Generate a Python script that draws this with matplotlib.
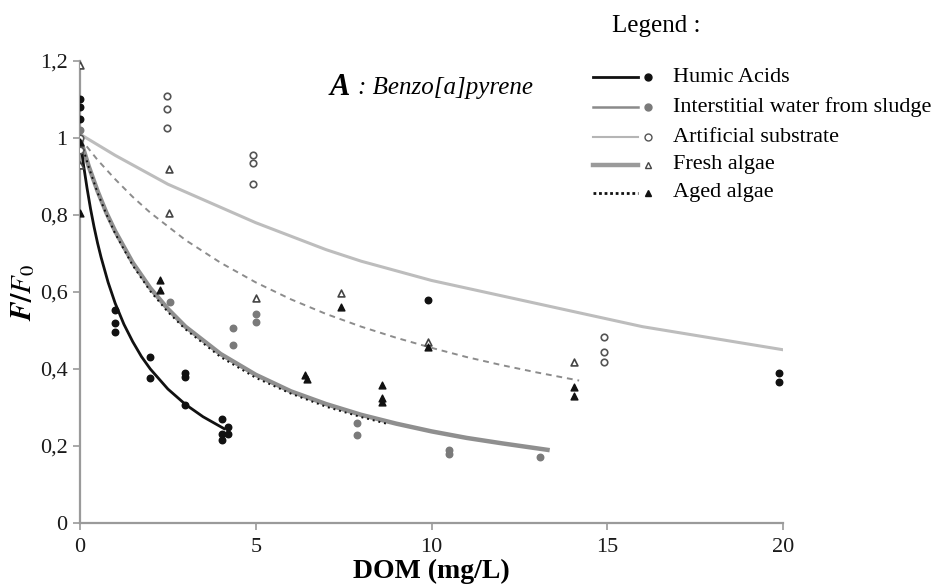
import matplotlib
matplotlib.use("Agg")
import matplotlib.pyplot as plt
from matplotlib.lines import Line2D

plt.rcParams['font.family'] = ['Liberation Serif', 'DejaVu Serif']
plt.rcParams['mathtext.fontset'] = 'stix'

# ---- fitted curves ----
humic_cx = [0, 0.1, 0.2, 0.3, 0.4, 0.5, 0.6, 0.8, 1.0, 1.25, 1.5, 1.75, 2, 2.5, 3, 3.5, 4.1]
humic_cy = [1.0, 0.93, 0.87, 0.816, 0.769, 0.727, 0.69, 0.625, 0.571, 0.516, 0.471,
            0.432, 0.40, 0.348, 0.308, 0.276, 0.245]

sludge_cx = [0, 0.25, 0.5, 0.75, 1, 1.5, 2, 2.5, 3, 4, 5, 6, 7, 8, 9, 10, 11, 12, 13.3]
sludge_cy = [1.0, 0.926, 0.862, 0.806, 0.758, 0.676, 0.61, 0.556, 0.51, 0.439, 0.385,
             0.342, 0.309, 0.281, 0.258, 0.238, 0.221, 0.207, 0.19]

aged_cx = [0, 0.25, 0.5, 0.75, 1, 1.5, 2, 2.5, 3, 4, 5, 6, 7, 8, 8.8]
aged_cy = [1.0, 0.924, 0.858, 0.802, 0.752, 0.669, 0.602, 0.548, 0.503, 0.431, 0.377,
           0.336, 0.302, 0.275, 0.256]

artif_cx = [0, 1, 2, 2.5, 3, 4, 5, 6, 7, 8, 9, 10, 11, 12, 13, 14, 15, 16, 17, 18, 19, 20]
artif_cy = [1.01, 0.955, 0.905, 0.88, 0.86, 0.82, 0.78, 0.745, 0.71, 0.68, 0.655, 0.63,
            0.61, 0.59, 0.57, 0.55, 0.53, 0.51, 0.495, 0.48, 0.465, 0.45]

fresh_cx = [0, 0.5, 1, 1.5, 2, 3, 4, 5, 6, 7, 8, 9, 10, 11, 12, 13, 14.2]
fresh_cy = [1.0, 0.943, 0.893, 0.847, 0.806, 0.735, 0.676, 0.625, 0.581, 0.543,
            0.51, 0.481, 0.455, 0.431, 0.41, 0.391, 0.37]

# ---- measured points ----
humic_px = [0, 0, 0, 1.0, 1.0, 1.0, 2.0, 2.0, 3.0, 3.0, 3.0, 4.05, 4.05, 4.05, 4.2, 4.2, 9.9, 19.9, 19.9]
humic_py = [1.10, 1.08, 1.05, 0.553, 0.52, 0.496, 0.43, 0.377, 0.39, 0.38, 0.306, 0.27, 0.23, 0.215, 0.25, 0.23, 0.58, 0.39, 0.366]

sludge_px = [0, 0, 2.55, 4.35, 4.35, 5.0, 5.0, 7.88, 7.88, 10.5, 10.5, 13.1]
sludge_py = [1.02, 0.98, 0.575, 0.506, 0.462, 0.543, 0.523, 0.26, 0.229, 0.19, 0.18, 0.172]

artif_px = [0, 0, 2.47, 2.47, 2.47, 4.93, 4.93, 4.93, 14.9, 14.9, 14.9]
artif_py = [1.0, 0.97, 1.11, 1.075, 1.025, 0.955, 0.935, 0.88, 0.483, 0.444, 0.419]

fresh_px = [0, 0, 2.53, 2.53, 5.0, 7.42, 9.9, 14.05]
fresh_py = [1.19, 0.93, 0.92, 0.805, 0.584, 0.597, 0.47, 0.419]

aged_px = [0, 0, 2.28, 2.28, 6.4, 6.45, 7.42, 8.6, 8.6, 8.6, 9.9, 14.05, 14.05]
aged_py = [0.99, 0.805, 0.63, 0.605, 0.384, 0.375, 0.561, 0.358, 0.325, 0.315, 0.457, 0.354, 0.33]

x_ticks = [0, 5, 10, 15, 20]
y_ticks = [0, 0.2, 0.4, 0.6, 0.8, 1.0, 1.2]
y_ticklabels = ['0', '0,2', '0,4', '0,6', '0,8', '1', '1,2']

W, H = 948, 588
fig = plt.figure(figsize=(W / 100, H / 100), dpi=100)
ax = fig.add_axes([80 / W, 1 - 523 / H, (783 - 80) / W, (523 - 61) / H])

# curves
ax.plot(artif_cx, artif_cy, color='#bdbdbd', lw=2.2, zorder=2)
ax.plot(fresh_cx, fresh_cy, color='#8c8c8c', lw=1.4, ls=(0, (3, 2.5)), zorder=2)
ax.plot(sludge_cx, sludge_cy, color='#8f8f8f', lw=3.2, zorder=2)
ax.plot(aged_cx, aged_cy, color='#111111', lw=1.4, ls=(0, (1, 2)), zorder=3)
ax.plot(humic_cx, humic_cy, color='#111111', lw=2.0, zorder=3)

# points
ax.scatter(humic_px, humic_py, s=22, marker='o', color='#111111', zorder=4)
ax.scatter(sludge_px, sludge_py, s=22, marker='o', color='#7a7a7a', zorder=4)
ax.scatter(artif_px, artif_py, s=22, marker='o', facecolor='white', edgecolor='#555555', lw=1.2, zorder=4)
ax.scatter(fresh_px, fresh_py, s=24, marker='^', facecolor='white', edgecolor='#444444', lw=1.2, zorder=4)
ax.scatter(aged_px, aged_py, s=24, marker='^', color='#111111', zorder=4)

ax.set_xlim(0, 20)
ax.set_ylim(0, 1.2)
ax.set_xticks(x_ticks)
ax.set_xticklabels([str(t) for t in x_ticks])
ax.set_yticks(y_ticks)
ax.set_yticklabels(y_ticklabels)
for s in ['top', 'right']:
    ax.spines[s].set_visible(False)
for s in ['left', 'bottom']:
    ax.spines[s].set_color('#9a9a9a')
    ax.spines[s].set_linewidth(1.6)
ax.tick_params(axis='both', direction='out', length=5, width=1.2, color='#9a9a9a',
               labelsize=16, labelcolor='#1a1a1a')
ax.tick_params(axis='x', pad=6)
ax.tick_params(axis='y', pad=4)

ax.set_xlabel('DOM (mg/L)', fontsize=20, fontweight='bold', labelpad=1)
ax.set_ylabel(r'$\boldsymbol{F/F_0}$', fontsize=21, labelpad=2)

# title inside
ax.text(330 / W, 1 - 88 / H, 'A', transform=fig.transFigure, fontsize=22,
        fontweight='bold', fontstyle='italic', va='center', ha='left')
ax.text(358 / W, 1 - 88 / H, ': Benzo[a]pyrene', transform=fig.transFigure,
        fontsize=18, fontstyle='italic', va='center', ha='left')

# legend drawn manually
fig.text(612 / W, 1 - 26 / H, 'Legend :', fontsize=18, va='center', ha='left')
rows = [
    ('Humic Acids', dict(color='#111111', lw=2.0, ls='-'),
     dict(marker='o', mfc='#111111', mec='#111111')),
    ('Interstitial water from sludge', dict(color='#8a8a8a', lw=1.8, ls='-'),
     dict(marker='o', mfc='#7a7a7a', mec='#7a7a7a')),
    ('Artificial substrate', dict(color='#b5b5b5', lw=1.5, ls='-'),
     dict(marker='o', mfc='white', mec='#555555')),
    ('Fresh algae', dict(color='#9a9a9a', lw=3.2, ls='-'),
     dict(marker='^', mfc='white', mec='#444444')),
    ('Aged algae', dict(color='#111111', lw=2.0, ls=(0, (1, 1))),
     dict(marker='^', mfc='#111111', mec='#111111')),
]
row_y = [77, 107, 137, 165, 193]
for (label, lkw, mkw), py in zip(rows, row_y):
    fy = 1 - py / H
    fig.add_artist(Line2D([593 / W, 638 / W], [fy, fy], transform=fig.transFigure, **lkw))
    fig.add_artist(Line2D([648 / W], [fy], transform=fig.transFigure, ls='none',
                          ms=5, mew=1.0, **mkw))
    fig.text(673 / W, fy, label, fontsize=16, va='center', ha='left')

fig.savefig('out.png', dpi=100)
